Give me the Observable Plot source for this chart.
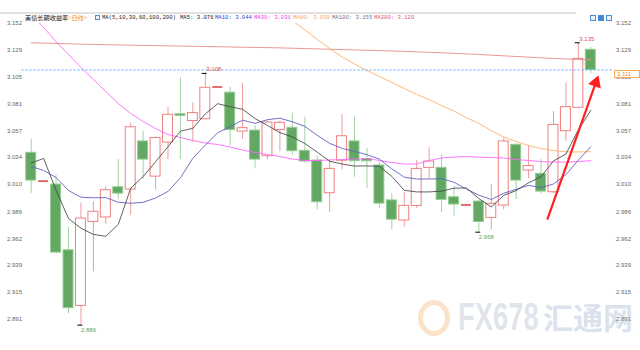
<!DOCTYPE html>
<html><head><meta charset="utf-8">
<script src="https://cdn.jsdelivr.net/npm/d3@7"></script>
<script src="https://cdn.jsdelivr.net/npm/@observablehq/plot@0.6"></script>
<style>
body{margin:0;background:#fff;}
#wrap{position:relative;width:640px;height:350px;overflow:hidden;background:#fff;}
#wrap svg{position:absolute;left:0;top:0;}
.h{position:absolute;top:14px;white-space:nowrap;line-height:8px;}
.cj{font-family:"Noto Sans CJK SC",sans-serif;font-size:6.2px;}
.mo{font-family:"Liberation Mono",monospace;font-size:5.6px;}
.topline{position:absolute;left:0;top:12px;width:576px;height:2px;background:#e2e2e2;}
.ico{position:absolute;top:15px;width:6px;height:6px;border:1px solid #4a8fd8;box-sizing:border-box;background:#eaf3fc;}
.wm{position:absolute;white-space:nowrap;font-weight:bold;}
#tag{position:absolute;left:614px;width:26px;height:8px;border:1px solid #ffa84f;background:#fff;box-sizing:border-box;font-family:"Liberation Sans",sans-serif;font-size:6px;line-height:6px;color:#e8903a;padding-left:2px;}
</style></head><body><div id="wrap"></div>
<script>
// candle data, one entry per trading day
const openV  = [3.038,3.013,3.010,2.952,2.903,2.977,2.981,3.0076,3.0056,3.048,3.017,3.047,3.072,3.066,3.0676,3.096,3.091,3.0567,3.0576,3.035,3.058,3.060,3.0397,3.0312,3.0023,3.031,3.048,3.0325,3.0268,2.996,2.9783,2.9911,3.0247,3.0247,2.9988,2.992,2.995,2.9806,2.9915,3.045,3.0223,3.0194,3.0032,3.057,3.0777,3.1288];
const highV  = [3.050,3.013,3.018,2.972,2.9935,2.995,3.008,3.032,3.064,3.057,3.052,3.078,3.104,3.082,3.108,3.096,3.096,3.099,3.062,3.066,3.066,3.073,3.0694,3.035,3.032,3.0717,3.0694,3.042,3.030,3.0018,3.0032,3.0312,3.0424,3.0365,3.0082,2.992,2.996,3.010,3.0512,3.046,3.0444,3.032,3.0744,3.0993,3.135,3.131];
const lowV   = [3.002,3.013,2.949,2.896,2.886,2.933,2.975,2.9965,2.983,3.0144,3.005,3.032,3.032,3.0473,3.067,3.096,3.044,3.0497,3.024,3.032,3.039,3.0356,3.029,2.988,2.9856,3.023,3.0164,3.0065,2.989,2.970,2.9723,2.989,3.015,2.985,2.982,2.992,2.968,2.970,2.9877,2.997,3.015,3.0018,3.002,3.048,3.0768,3.1077];
const closeV = [3.0135,3.013,2.950,2.901,2.980,2.986,3.005,3.002,3.0605,3.032,3.051,3.0715,3.0705,3.073,3.0953,3.096,3.058,3.0597,3.032,3.0647,3.0644,3.0394,3.0303,2.9944,3.0238,3.0526,3.0306,3.0305,2.9932,2.979,2.9912,3.0238,3.0303,2.9965,2.9924,2.992,2.977,2.993,3.048,3.0135,3.0262,3.0038,3.0626,3.0782,3.1208,3.111];

// moving-average lines
const ma5   = [3.029,3.033,3.005,2.980,2.9715,2.966,2.9644,2.9748,3.0067,3.0171,3.0301,3.0434,3.0571,3.0596,3.0723,3.0813,3.0786,3.0764,3.0682,3.0621,3.0558,3.052,3.0462,3.0386,3.0305,3.0281,3.0263,3.0264,3.0261,3.0172,3.0049,3.0035,3.0035,3.0042,3.0068,3.007,2.9976,2.9902,3.0005,3.0047,3.0115,3.0169,3.0308,3.0369,3.0583,3.0753];
const ma10  = [3.0259,3.0224,3.0162,3.0047,2.9988,2.9983,2.9985,2.9944,2.9935,2.9943,2.9981,3.0039,3.016,3.0332,3.0447,3.0557,3.061,3.0668,3.0639,3.0672,3.0685,3.0653,3.0613,3.0534,3.0463,3.0419,3.0392,3.0363,3.0324,3.0238,3.0165,3.0149,3.0149,3.0152,3.012,3.006,3.0006,2.9968,3.0023,3.0058,3.0093,3.0073,3.0105,3.0187,3.0315,3.0434];
const ma30  = [3.160,3.1485,3.136,3.1247,3.1132,3.1026,3.092,3.0814,3.0726,3.0656,3.0594,3.0541,3.0515,3.0488,3.0466,3.0453,3.0431,3.0404,3.0382,3.0365,3.0347,3.0325,3.0312,3.0312,3.0316,3.032,3.0325,3.0329,3.0312,3.0294,3.0281,3.0281,3.0312,3.0334,3.0342,3.0347,3.0342,3.0338,3.0334,3.032,3.0312,3.0303,3.0298,3.0298,3.0303,3.031];
const ma60  = [null,null,null,null,null,null,null,null,null,null,null,null,null,null,null,null,null,null,null,null,3.162,3.1545,3.1465,3.138,3.130,3.1225,3.1163,3.1105,3.1053,3.100,3.0947,3.0894,3.085,3.0797,3.0748,3.069,3.0638,3.0576,3.0519,3.0479,3.0444,3.0417,3.040,3.0388,3.0387,3.039];
const ma200 = [3.1350,3.1347,3.1344,3.1341,3.1338,3.1335,3.1333,3.1331,3.1329,3.1327,3.1325,3.1323,3.1321,3.1319,3.1317,3.1315,3.1313,3.1311,3.1309,3.1307,3.1305,3.1302,3.1299,3.1296,3.1293,3.1290,3.1287,3.1284,3.1281,3.1278,3.1274,3.1270,3.1266,3.1262,3.1257,3.1252,3.1247,3.1241,3.1235,3.1229,3.1223,3.1217,3.1212,3.1207,3.1203,3.1200];

const yTicks = [3.152,3.129,3.105,3.081,3.057,3.034,3.010,2.986,2.962,2.939,2.915,2.891];
const lastPrice = 3.111;
const highMarks = [{n:15, v:3.108},{n:45, v:3.135}];
const lowMarks  = [{n:5, v:2.886},{n:37, v:2.968}];
const arrowPts  = [{n:42.5, v:2.979},{n:46.7, v:3.109}];

const legendItems = [
  {t:"美债长期收益率", cls:"cj", c:"#222", x:25},
  {t:"<日线>", cls:"cj", c:"#f08a24", x:68},
  {t:"MA(5,10,30,60,100,200)", cls:"mo", c:"#222", x:102},
  {t:"MA5: 3.076", cls:"mo", c:"#222", x:180},
  {t:"MA10: 3.044", cls:"mo", c:"#3c3cdc", x:215},
  {t:"MA30: 3.031", cls:"mo", c:"#ee3cee", x:254},
  {t:"MA60: 3.039", cls:"mo", c:"#ffa54a", x:293},
  {t:"MA100: 3.155", cls:"mo", c:"#777", x:332},
  {t:"MA200: 3.120", cls:"mo", c:"#e25a5a", x:374}
];

const candles = closeV.map((c,k)=>({n:k+1, o:openV[k], h:highV[k], l:lowV[k], c}));
const ups = candles.filter(d=>d.c>d.o);
const downs = candles.filter(d=>d.c<d.o);
const flats = candles.filter(d=>d.c===d.o);
const pts = arr => arr.map((v,k)=>({n:k+1, v}));

const RED = "#ee8080", RED_W = "#f09a9a", GREEN = "#62a862", GREEN_B = "#92cb92", GREEN_W = "#a3d4a3";

const t = 0.93;
const headPt = [{n: arrowPts[0].n + t*(arrowPts[1].n-arrowPts[0].n), v: arrowPts[0].v + t*(arrowPts[1].v-arrowPts[0].v)}];

const chart = Plot.plot({
  width: 640, height: 350,
  marginTop: 23, marginBottom: 31, marginLeft: 24.5, marginRight: 43.5,
  x: {domain: [0.5, 46.5], axis: null},
  y: {domain: [2.891, 3.152], axis: null},
  style: {background: "transparent", fontFamily: "Liberation Sans, sans-serif"},
  marks: [
    // wicks
    Plot.ruleX(ups.concat(flats), {x:"n", y1:"l", y2:"h", stroke: RED_W, strokeWidth: 1}),
    Plot.ruleX(downs, {x:"n", y1:"l", y2:"h", stroke: GREEN_W, strokeWidth: 1}),
    // bodies
    Plot.rect(ups, {x1: d=>d.n-0.4, x2: d=>d.n+0.4, y1:"o", y2:"c", fill:"white", stroke: RED, strokeWidth: 1}),
    Plot.rect(downs, {x1: d=>d.n-0.4, x2: d=>d.n+0.4, y1:"o", y2:"c", fill: GREEN, stroke: GREEN_B, strokeWidth: 1}),
    Plot.ruleY(flats, {y:"c", x1: d=>d.n-0.4, x2: d=>d.n+0.4, stroke:"#e23c3c", strokeWidth: 1.5}),
    // moving averages
    Plot.line(pts(ma200), {x:"n", y:"v", stroke:"#e88a8a", strokeWidth: 0.9, clip: true}),
    Plot.line(pts(ma60), {x:"n", y:"v", stroke:"#ffb066", strokeWidth: 0.9, clip: true}),
    Plot.line(pts(ma30), {x:"n", y:"v", stroke:"#ff66ff", strokeWidth: 0.9, clip: true}),
    Plot.line(pts(ma10), {x:"n", y:"v", stroke:"#6262c4", strokeWidth: 0.9, clip: true}),
    Plot.line(pts(ma5), {x:"n", y:"v", stroke:"#444", strokeWidth: 0.85, clip: true}),
    // current price line
    Plot.ruleY([lastPrice], {stroke:"#55a8ff", strokeWidth: 1, strokeDasharray:"2,2", insetLeft:-3, insetRight:-17}),
    // extreme marks
    Plot.ruleY(highMarks.concat(lowMarks), {y:"v", x1: d=>d.n-0.25, x2: d=>d.n+0.15, stroke:"#000", strokeWidth: 1}),
    Plot.text(highMarks, {x:"n", y:"v", text: d=>d.v.toFixed(3), textAnchor:"start", dx: 1, dy: -4, fill:"#e05050", fontSize: 6}),
    Plot.text(lowMarks, {x:"n", y:"v", text: d=>d.v.toFixed(3), textAnchor:"start", dx: 0, dy: 5, fill:"#5aa35a", fontSize: 6}),
    // axis labels both sides
    Plot.text(yTicks, {y: d=>d, text: d=>d.toFixed(3), frameAnchor:"left", textAnchor:"end", dx:-3, fill:"#666", fontSize: 6}),
    Plot.text(yTicks, {y: d=>d, text: d=>d.toFixed(3), frameAnchor:"right", textAnchor:"start", dx:19, fill:"#666", fontSize: 6}),
    // red arrow
    Plot.link(arrowPts, {x1: d=>arrowPts[0].n, y1: d=>arrowPts[0].v, x2: d=>headPt[0].n, y2: d=>headPt[0].v, filter: (d,i)=>i===0, stroke:"#ff1f1f", strokeWidth: 2.2}),
    Plot.dot(headPt, {x:"n", y:"v", symbol:"triangle", r: 5, rotate: 20, fill:"#ff1f1f", stroke:"none"})
  ]
});

const wrap = document.getElementById("wrap");
wrap.appendChild(chart);

// header
const line = document.createElement("div"); line.className = "topline"; wrap.appendChild(line);
for (const it of legendItems) {
  const s = document.createElement("span");
  s.className = "h " + it.cls; s.style.left = it.x + "px"; s.style.color = it.c; s.textContent = it.t;
  wrap.appendChild(s);
}
const icon = document.createElement("span");
icon.className = "ico"; icon.style.left = "95px"; icon.style.top = "15px"; icon.style.width="5px"; icon.style.height="5px";
wrap.appendChild(icon);
[590, 598, 606].forEach((x,i)=>{
  const b = document.createElement("div"); b.className = "ico"; b.style.left = x+"px";
  if (i===1) b.style.background = "#3f86d6";
  wrap.appendChild(b);
});

// price tag on the right
const yPix = chart.scale("y").apply(lastPrice);
const tag = document.createElement("div"); tag.id = "tag";
tag.style.top = (yPix + 0.5) + "px"; tag.textContent = lastPrice.toFixed(3);
wrap.appendChild(tag);

// watermark
const ring = document.createElement("div");
ring.style.cssText = "position:absolute;left:418px;top:300px;width:32px;height:36px;border-radius:50%;border:5px solid rgba(245,185,120,0.4);box-sizing:border-box;";
wrap.appendChild(ring);
const w1 = document.createElement("div"); w1.className = "wm";
w1.style.cssText += "left:458px;top:296px;font-family:'Liberation Sans',sans-serif;font-size:38px;color:rgba(185,195,210,0.45);transform:scaleX(0.72);transform-origin:left top;";
w1.textContent = "FX678"; wrap.appendChild(w1);
const w2 = document.createElement("div"); w2.className = "wm";
w2.style.cssText += "left:543px;top:298px;font-family:'Noto Sans CJK SC',sans-serif;font-size:30px;line-height:36px;color:rgba(160,180,212,0.4);";
w2.textContent = "汇通网"; wrap.appendChild(w2);
</script></body></html>
